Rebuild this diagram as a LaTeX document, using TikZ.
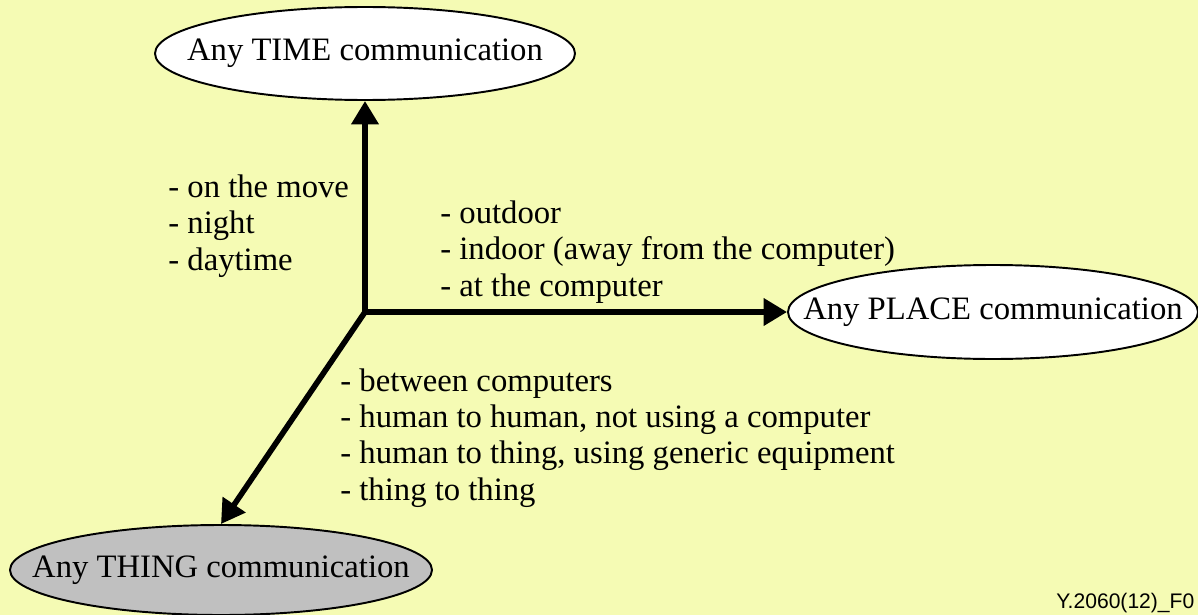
\documentclass[tikz,border=0pt]{standalone}
\usepackage{fontspec}
\setmainfont{Liberation Serif}
\setsansfont{Liberation Sans}
\usepackage{tikz}
\usetikzlibrary{shapes.geometric, arrows.meta, positioning}
\usepackage{xcolor}
\definecolor{bgyellow}{RGB}{245,251,180}
\definecolor{thinggray}{RGB}{192,192,192}
\newcommand{\ovtxt}[1]{\makebox[0pt]{#1}}

\begin{document}
\begin{tikzpicture}[
    oval/.style={draw, ellipse, line width=1.1pt, fill=white, inner sep=0pt,
                 font=\fontsize{18.6}{20.5}\selectfont},
    lst/.style={anchor=base west, align=left, inner sep=0pt,
                font=\fontsize{18.6}{20.5}\selectfont},
    arrow/.style={-{Triangle[length=0.47cm, width=0.53cm]}, line width=3.2pt, line cap=round}
]
    \fill[bgyellow] (0,0) rectangle (23.96,-12.3);
    \useasboundingbox (0,0) rectangle (23.96,-12.3);

    % Ursprung
    \coordinate (o) at (7.3,-6.24);

    % Ellipsen
    \node[oval, minimum width=8.4cm, minimum height=1.86cm] (time) at (7.3,-1.07) {\ovtxt{Any TIME communication}};
    \node[oval, minimum width=8.2cm, minimum height=1.88cm] (place) at (19.86,-6.24) {\ovtxt{Any PLACE communication}};
    \node[oval, fill=thinggray, minimum width=8.44cm, minimum height=1.8cm] (thing) at (4.42,-11.4) {\ovtxt{Any THING communication}};

    % Pfeile
    \draw[arrow] (o) -- (time.south);
    \draw[arrow] (o) -- (place.west);
    \draw[arrow] (o) -- (thing.north);

    % Listen (Anker = letzte Zeile)
    \node[lst] (timelst) at (3.36,-5.4) {- on the move\\- night\\- daytime};
    \node[lst] (placelst) at (8.8,-5.92) {- outdoor\\- indoor (away from the computer)\\- at the computer};
    \node[lst] (thinglst) at (6.8,-10.0) {- between computers\\- human to human, not using a computer\\- human to thing, using generic equipment\\- thing to thing};

    \node[anchor=base west, inner sep=0pt, font=\sffamily\fontsize{12}{14}\selectfont] (figid) at (21.12,-12.16) {Y.2060(12)\_F0};
\end{tikzpicture}
\end{document}
